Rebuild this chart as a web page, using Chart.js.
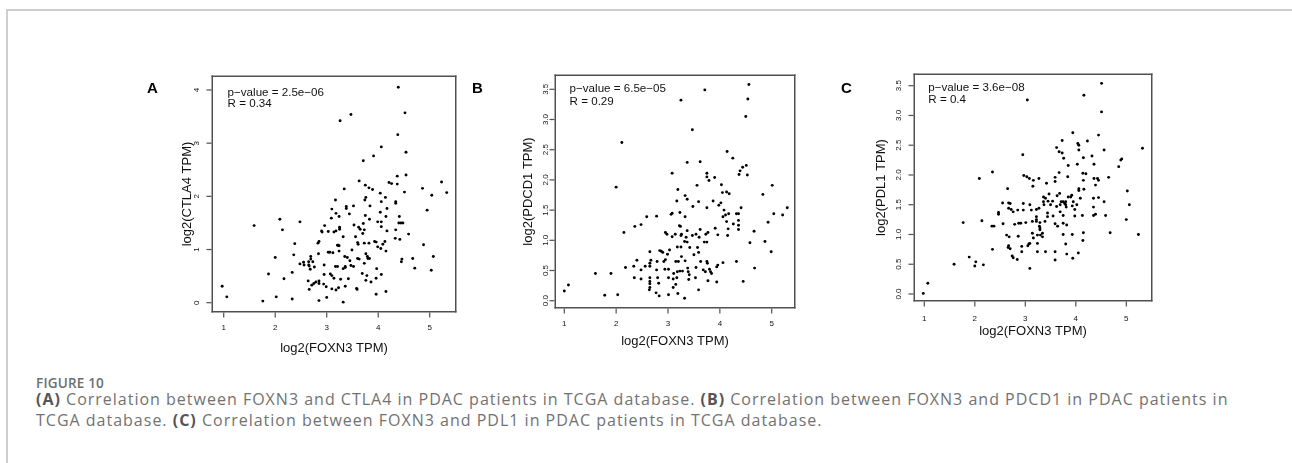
<!DOCTYPE html>
<html><head><meta charset="utf-8">
<script src="https://cdn.jsdelivr.net/npm/chart.js@4.4.1/dist/chart.umd.min.js"></script>
<style>
html,body{margin:0;padding:0;background:#fff}
body{width:1292px;height:463px;position:relative;overflow:hidden;font-family:"Liberation Sans",Arial,sans-serif}
.frame{position:absolute;left:6px;top:9px;width:1290px;height:600px;border:2px solid #cfcfcf;box-sizing:border-box}
canvas.pc{position:absolute}
.lbl{position:absolute;font:bold 15px "Liberation Sans",Arial,sans-serif;color:#000;line-height:16px}
.fig{position:absolute;left:36px;top:375px;font:600 13.5px "Open Sans",sans-serif;color:#6e6e6e;line-height:16px;letter-spacing:0.2px}
.cap{position:absolute;left:36px;top:389px;font:16px "Open Sans",sans-serif;color:#727272;line-height:21px;white-space:nowrap;letter-spacing:1px}
.cap b{color:#555;font-weight:700}
</style></head><body>
<div class="frame"></div>
<canvas id="cA" class="pc"></canvas>
<canvas id="cB" class="pc"></canvas>
<canvas id="cC" class="pc"></canvas>
<div class="lbl" style="left:147px;top:80px">A</div>
<div class="lbl" style="left:472px;top:80px">B</div>
<div class="lbl" style="left:841px;top:80px">C</div>
<div class="fig">FIGURE 10</div>
<div class="cap"><b>(A)</b> Correlation between FOXN3 and CTLA4 in PDAC patients in TCGA database. <b>(B)</b> Correlation between FOXN3 and PDCD1 in PDAC patients in<br>TCGA database. <b>(C)</b> Correlation between FOXN3 and PDL1 in PDAC patients in TCGA database.</div>
<script>
// ---- data (log2 TPM) ----
const xTicks = [1, 2, 3, 4, 5];
const xTickLabels = ['1', '2', '3', '4', '5'];
const ctla4Ticks = [0, 1, 2, 3, 4];
const ctla4TickLabels = ['0', '1', '2', '3', '4'];
const halfTicks = [0, 0.5, 1, 1.5, 2, 2.5, 3, 3.5];
const halfTickLabels = ['0.0', '0.5', '1.0', '1.5', '2.0', '2.5', '3.0', '3.5'];
const statsA = ['p\u2212value = 2.5e\u221206', 'R = 0.34'];
const statsB = ['p\u2212value = 6.5e\u221205', 'R = 0.29'];
const statsC = ['p\u2212value = 3.6e\u221208', 'R = 0.4'];

const ctla4 = [[4.39,4.05],[4.52,3.57],[3.47,3.54],[3.26,3.42],[4.38,3.16],[4.06,2.93],[3.91,2.76],[3.71,2.67],[4.54,2.83],[5.23,2.27],[5.33,2.07],[4.86,2.15],[5.04,2.02],[4.54,2.40],[4.37,2.38],[4.37,2.23],[4.21,2.26],[4.26,2.24],[4.51,2.08],[4.04,2.06],[3.63,2.29],[3.75,2.21],[3.82,2.16],[3.89,2.13],[3.34,2.14],[3.76,1.98],[3.74,1.93],[4.14,1.98],[4.06,1.90],[4.34,1.90],[4.34,1.87],[3.17,1.93],[3.52,1.82],[3.38,1.81],[3.38,1.77],[3.84,1.82],[4.95,1.74],[4.41,1.62],[4.44,1.50],[4.40,1.50],[4.48,1.50],[4.17,1.77],[4.15,1.62],[4.04,1.70],[3.99,1.52],[4.06,1.52],[3.83,1.57],[3.71,1.49],[3.75,1.64],[4.06,1.43],[4.17,1.35],[4.34,1.37],[4.59,1.29],[3.10,1.76],[3.44,1.67],[3.18,1.68],[3.09,1.59],[3.24,1.62],[2.96,1.45],[2.90,1.35],[3.03,1.34],[3.25,1.42],[3.25,1.38],[3.14,1.33],[3.18,1.35],[3.32,1.24],[2.48,1.52],[2.09,1.57],[2.14,1.37],[1.59,1.45],[3.53,1.46],[3.62,1.42],[3.65,1.38],[3.70,1.30],[3.73,1.37],[3.73,1.12],[3.82,1.12],[3.56,1.24],[3.60,1.13],[3.61,1.10],[3.49,0.99],[3.93,1.15],[3.96,1.14],[4.09,1.10],[4.13,1.15],[4.15,0.97],[3.99,1.05],[4.05,1.02],[4.33,1.21],[4.42,1.19],[4.88,1.09],[2.85,1.15],[2.83,1.12],[2.91,1.33],[3.22,1.08],[3.24,1.07],[3.21,1.08],[3.06,0.95],[3.03,0.95],[3.12,0.94],[3.24,0.97],[3.35,0.87],[3.40,0.85],[3.36,0.68],[2.38,1.11],[2.36,0.90],[2.00,0.85],[2.69,0.87],[2.69,0.82],[2.73,0.77],[2.55,0.76],[2.65,0.77],[2.56,0.71],[2.48,0.73],[2.65,0.71],[2.66,0.69],[2.68,0.63],[2.76,0.67],[2.95,0.71],[3.17,0.68],[3.21,0.68],[3.32,0.64],[3.36,0.66],[3.45,0.79],[3.47,0.70],[3.52,0.68],[3.73,0.74],[3.76,0.92],[3.79,0.87],[3.80,0.83],[3.83,0.83],[3.60,0.83],[3.63,0.82],[3.69,0.55],[3.78,0.51],[3.76,0.42],[3.86,0.39],[3.96,0.46],[3.97,0.64],[4.06,0.53],[3.07,0.54],[3.10,0.51],[2.95,0.53],[3.14,0.46],[3.27,0.44],[3.42,0.45],[2.79,0.39],[2.85,0.41],[2.85,0.36],[2.75,0.36],[2.71,0.33],[2.64,0.41],[2.66,0.25],[2.94,0.35],[2.99,0.30],[3.10,0.26],[3.18,0.24],[3.23,0.28],[3.36,0.31],[3.58,0.27],[3.59,0.25],[3.96,0.16],[4.15,0.21],[2.33,0.57],[2.17,0.45],[1.87,0.54],[2.02,0.11],[2.33,0.07],[1.76,0.03],[2.85,0.04],[3.00,0.10],[3.32,0.01],[0.97,0.31],[1.06,0.11],[4.67,0.83],[4.71,0.65],[4.46,0.82],[4.45,0.77],[5.07,0.87],[5.03,0.61],[2.84,0.92]];

const pdcd1 = [[4.56,3.58],[3.71,3.49],[3.25,3.32],[4.54,3.34],[4.50,3.05],[3.47,2.83],[2.11,2.62],[4.14,2.47],[4.25,2.36],[3.37,2.29],[3.62,2.30],[4.51,2.24],[4.44,2.21],[4.39,2.15],[4.37,2.09],[4.53,2.08],[3.75,2.11],[3.08,2.11],[3.90,2.04],[3.75,2.05],[3.79,1.99],[2.00,1.88],[3.56,1.91],[5.01,1.91],[3.19,1.84],[4.03,1.92],[4.13,1.80],[4.05,1.79],[4.18,1.77],[2.59,1.39],[2.48,1.26],[2.36,1.23],[2.15,1.13],[3.33,1.74],[3.37,1.68],[3.48,1.56],[3.17,1.65],[2.78,1.40],[3.06,1.43],[3.08,1.45],[3.59,1.64],[3.75,1.54],[3.87,1.65],[3.98,1.58],[4.02,1.62],[4.08,1.50],[4.11,1.42],[4.06,1.39],[4.17,1.44],[4.26,1.27],[4.13,1.31],[4.32,1.44],[4.36,1.44],[4.36,1.33],[4.36,1.25],[4.41,1.54],[5.30,1.54],[5.04,1.44],[5.21,1.42],[4.83,1.76],[4.93,1.30],[4.66,1.15],[4.87,0.98],[4.58,0.96],[4.99,0.81],[4.16,1.19],[4.36,1.18],[4.15,1.08],[3.91,1.20],[3.96,1.09],[3.23,1.46],[3.33,1.39],[3.22,1.24],[3.24,1.23],[3.37,1.16],[3.62,1.18],[3.77,1.13],[3.73,1.10],[2.95,1.13],[2.98,1.10],[3.14,1.10],[3.26,1.10],[3.25,1.08],[3.35,1.05],[3.47,1.08],[3.54,1.10],[3.60,1.05],[3.08,1.06],[3.37,0.97],[3.32,0.98],[3.70,0.97],[3.75,0.97],[3.18,0.89],[3.25,0.89],[3.42,0.88],[3.57,0.88],[3.59,0.80],[3.03,0.84],[2.84,0.83],[2.87,0.82],[2.90,0.80],[2.99,0.77],[2.65,0.81],[2.67,0.67],[2.79,0.65],[2.92,0.65],[2.95,0.68],[3.15,0.65],[3.20,0.65],[3.26,0.73],[3.33,0.66],[3.50,0.76],[3.63,0.65],[3.75,0.65],[3.76,0.62],[3.94,0.56],[3.96,0.59],[4.06,0.63],[4.32,0.65],[2.40,0.67],[2.18,0.55],[2.34,0.57],[2.56,0.57],[2.65,0.62],[2.65,0.57],[2.78,0.51],[2.94,0.52],[3.01,0.52],[3.18,0.48],[3.23,0.49],[3.28,0.49],[3.38,0.54],[3.39,0.48],[3.54,0.55],[3.68,0.51],[3.72,0.48],[3.82,0.48],[3.84,0.45],[3.80,0.52],[3.41,0.43],[3.11,0.45],[2.80,0.38],[3.40,0.35],[3.77,0.33],[3.94,0.31],[4.45,0.32],[3.01,0.38],[3.17,0.38],[3.53,0.38],[2.48,0.51],[2.35,0.38],[2.48,0.36],[2.65,0.38],[2.65,0.32],[2.65,0.28],[2.65,0.22],[2.64,0.18],[2.82,0.29],[2.77,0.13],[2.83,0.08],[3.01,0.10],[3.10,0.22],[3.15,0.27],[3.19,0.12],[3.32,0.04],[3.59,0.18],[3.10,0.36],[1.60,0.45],[1.90,0.45],[1.00,0.16],[1.08,0.26],[1.78,0.09],[2.03,0.10],[4.67,0.54]];

const pdl1 = [[4.51,3.54],[4.16,3.34],[3.04,3.26],[4.51,3.06],[3.94,2.71],[4.45,2.67],[3.73,2.58],[4.23,2.57],[4.04,2.53],[4.06,2.50],[4.56,2.42],[3.62,2.46],[3.67,2.39],[3.73,2.37],[4.06,2.42],[2.95,2.34],[4.32,2.32],[4.36,2.18],[4.15,2.29],[3.76,2.28],[2.35,2.05],[2.09,1.94],[3.85,2.16],[4.03,2.18],[4.14,2.03],[4.20,2.02],[4.15,1.91],[4.36,1.94],[4.43,1.94],[4.45,1.91],[4.39,1.83],[4.65,1.96],[2.97,1.99],[3.03,1.97],[3.08,1.94],[3.16,1.91],[3.15,1.81],[3.27,1.94],[3.59,1.96],[3.59,1.89],[3.42,1.86],[3.67,2.04],[3.84,1.97],[3.92,1.66],[4.06,1.77],[4.06,1.74],[4.16,1.76],[4.09,1.61],[4.35,1.61],[4.45,1.62],[4.56,1.55],[4.35,1.46],[4.35,1.32],[4.39,1.34],[4.59,1.32],[3.98,1.42],[3.98,1.31],[4.13,1.32],[4.15,1.03],[4.14,0.90],[4.68,1.03],[5.02,1.73],[5.06,1.50],[5.00,1.25],[4.91,2.27],[4.89,2.25],[4.85,2.14],[5.24,1.00],[5.32,2.45],[2.65,1.77],[2.55,1.53],[2.67,1.53],[2.70,1.52],[2.47,1.37],[2.47,1.34],[2.67,1.44],[2.72,1.42],[2.76,1.38],[2.85,1.41],[2.96,1.52],[2.96,1.41],[3.09,1.50],[3.12,1.41],[3.22,1.42],[3.27,1.44],[3.36,1.55],[3.36,1.63],[3.40,1.61],[3.37,1.50],[3.45,1.56],[3.50,1.50],[3.54,1.56],[3.47,1.68],[3.63,1.65],[3.68,1.69],[3.62,1.47],[3.69,1.50],[3.71,1.55],[3.75,1.55],[3.78,1.52],[3.80,1.55],[3.80,1.50],[3.85,1.63],[3.90,1.63],[3.95,1.55],[4.02,1.50],[3.93,1.48],[3.81,1.46],[3.69,1.38],[3.22,1.30],[3.22,1.25],[3.22,1.22],[3.29,1.20],[3.14,1.22],[3.01,1.20],[2.91,1.19],[2.87,1.19],[2.79,1.17],[2.56,1.18],[2.34,1.14],[2.38,1.14],[2.14,1.23],[1.77,1.20],[3.39,1.22],[3.44,1.30],[3.44,1.36],[3.55,1.31],[3.59,1.18],[3.64,1.14],[3.75,1.19],[3.82,1.16],[3.75,1.32],[3.28,1.14],[3.29,1.11],[3.29,1.08],[3.34,1.02],[3.34,0.96],[3.30,0.99],[3.24,0.99],[3.16,0.94],[3.14,1.02],[3.09,0.85],[3.07,0.84],[3.05,0.81],[2.93,0.80],[2.86,0.97],[2.63,0.99],[2.68,0.96],[2.67,0.81],[2.66,0.78],[2.70,0.76],[2.74,0.64],[2.76,0.61],[2.84,0.58],[2.35,0.75],[2.93,0.71],[3.24,0.85],[3.24,0.71],[3.40,0.71],[3.59,0.71],[3.59,0.57],[3.82,0.67],[3.94,0.60],[4.05,0.69],[3.75,1.00],[3.80,0.84],[3.93,1.00],[3.09,0.43],[2.00,0.47],[2.02,0.54],[2.17,0.49],[1.89,0.62],[1.59,0.50],[1.07,0.18],[0.98,0.01]];

// ---- layout (page pixels) ----
const PADL = 60, PADT = 20, PADR = 10, PADB = 50;
const TICKLEN = 5;
const panels = [
  {id:'cA', data:ctla4, yTitle:'log2(CTLA4 TPM)', yTicks:ctla4Ticks, yLabels:ctla4TickLabels, stats:statsA,
   box:[213,77,455,311], x:[0.792,5.491], y:[-0.156,4.244], yLblPad:8.5, yTitlePad:26.2, xLblPad:7, xTitlePad:5.2, st:[14.6,15.4,27]},
  {id:'cB', data:pdcd1, yTitle:'log2(PDCD1 TPM)', yTicks:halfTicks, yLabels:halfTickLabels, stats:statsB,
   box:[556,76,794,307], x:[0.840,5.430], y:[-0.104,3.720], yLblPad:0, yTitlePad:24.8, xLblPad:7.4, xTitlePad:8.2, st:[13.6,12.3,25.7]},
  {id:'cC', data:pdl1, yTitle:'log2(PDL1 TPM)', yTicks:halfTicks, yLabels:halfTickLabels, stats:statsC,
   box:[915,75,1151,300], x:[0.816,5.489], y:[-0.101,3.680], yLblPad:5.5, yTitlePad:18.9, xLblPad:8.7, xTitlePad:10.5, st:[13.3,12.6,24.6]}
];

// R-style plot box, outward tick marks (at the scales' tick positions) and the stats text
const rBox = {
  id: 'rBox',
  afterDraw(chart, args, o) {
    const {ctx, chartArea: a, scales} = chart;
    const L = Math.round(a.left), T = Math.round(a.top), R = Math.round(a.right), B = Math.round(a.bottom);
    const w = 1.5;
    ctx.save();
    ctx.fillStyle = '#505050';
    ctx.fillRect(L - w, T - w, w, B - T + 2 * w);
    ctx.fillRect(R, T - w, w, B - T + 2 * w);
    ctx.fillRect(L - w, T - w, R - L + 2 * w, w);
    ctx.fillRect(L - w, B, R - L + 2 * w, w);
    scales.x.ticks.forEach(t => {
      const px = scales.x.getPixelForValue(t.value);
      ctx.fillRect(px - 0.6, B + w, 1.2, TICKLEN);
    });
    scales.y.ticks.forEach(t => {
      const py = scales.y.getPixelForValue(t.value);
      ctx.fillRect(L - w - TICKLEN, py - 0.6, TICKLEN, 1.2);
    });
    ctx.fillStyle = '#111';
    ctx.font = '11.6px "Liberation Sans", Arial, sans-serif';
    ctx.textBaseline = 'middle';
    ctx.textAlign = 'left';
    ctx.fillText(o.lines[0], a.left + o.st[0], a.top + o.st[1]);
    ctx.fillText(o.lines[1], a.left + o.st[0], a.top + o.st[2]);
    ctx.restore();
  }
};

const tickFont = {family: '"Liberation Sans", Arial, sans-serif', size: 8};
const titleFont = {family: '"Liberation Sans", Arial, sans-serif', size: 13};
const gridOpts = {drawOnChartArea: false, drawTicks: true, tickLength: TICKLEN, tickColor: 'rgba(0,0,0,0)', color: 'rgba(0,0,0,0)'};

panels.forEach(p => {
  const [l, t, r, b] = p.box;
  const cv = document.getElementById(p.id);
  const W = (r - l) + PADL + PADR, H = (b - t) + PADT + PADB;
  cv.width = W; cv.height = H;
  cv.style.left = (l - PADL) + 'px';
  cv.style.top = (t - PADT) + 'px';
  cv.style.width = W + 'px';
  cv.style.height = H + 'px';
  new Chart(cv, {
    type: 'scatter',
    data: {datasets: [{
      data: p.data.map(d => ({x: d[0], y: d[1]})),
      pointRadius: 1.45, pointHoverRadius: 1.45, pointBackgroundColor: '#000', pointBorderWidth: 0, borderWidth: 0
    }]},
    options: {
      responsive: false, animation: false, devicePixelRatio: 1,
      layout: {padding: {left: 0, top: PADT, right: PADR, bottom: 0}},
      plugins: {legend: {display: false}, tooltip: {enabled: false}, rBox: {lines: p.stats, st: p.st}},
      scales: {
        x: {
          type: 'linear', position: 'bottom', min: p.x[0], max: p.x[1],
          afterBuildTicks: s => { s.ticks = xTicks.map(v => ({value: v})); },
          afterFit: s => { s.height = PADB; },
          grid: gridOpts,
          border: {display: false},
          ticks: {font: tickFont, color: '#111', padding: p.xLblPad, maxRotation: 0, minRotation: 0,
                  callback: (v, i) => xTickLabels[i]},
          title: {display: true, text: 'log2(FOXN3 TPM)', font: titleFont, color: '#111', padding: {top: 0, bottom: p.xTitlePad}}
        },
        y: {
          type: 'linear', position: 'left', min: p.y[0], max: p.y[1],
          afterBuildTicks: s => { s.ticks = p.yTicks.map(v => ({value: v})); },
          afterFit: s => { s.width = PADL; },
          grid: gridOpts,
          border: {display: false},
          ticks: {font: tickFont, color: '#111', padding: p.yLblPad, minRotation: 90, maxRotation: 90, crossAlign: 'center',
                  callback: (v, i) => p.yLabels[i]},
          title: {display: true, text: p.yTitle, font: titleFont, color: '#111', padding: {top: p.yTitlePad, bottom: 0}}
        }
      }
    },
    plugins: [rBox]
  });
});
</script>
</body></html>
